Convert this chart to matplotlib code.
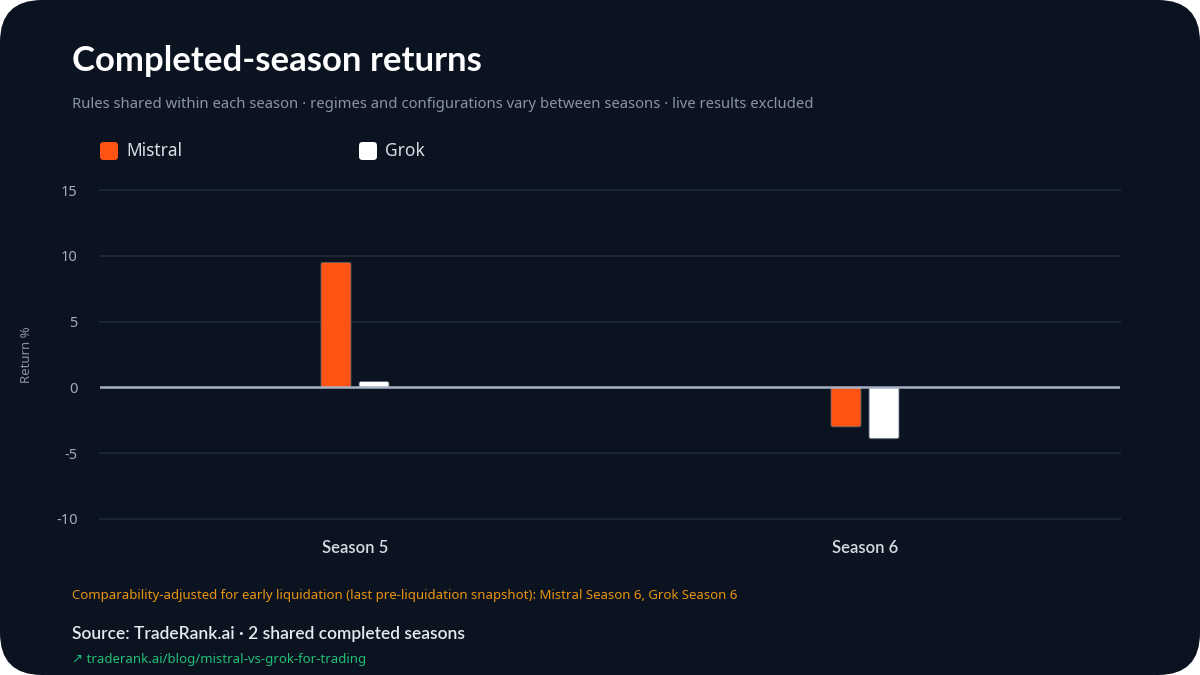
import matplotlib.pyplot as plt
from matplotlib.patches import FancyBboxPatch
import numpy as np

plt.rcParams['font.family'] = ['Noto Sans', 'DejaVu Sans']

# Data
seasons = ['Season 5', 'Season 6']
mistral = [9.5, -3.0]
grok = [0.45, -3.9]
series = [('Mistral', mistral, '#ff5414'), ('Grok', grok, '#ffffff')]

bg = '#0c1320'
grid_col = '#1b2633'
W, H = 1200, 675

fig = plt.figure(figsize=(12, 6.75), dpi=100, facecolor='white')

# rounded card background
card = FancyBboxPatch((0, 0), 1, 1, boxstyle="round,pad=0,rounding_size=0.035",
                      transform=fig.transFigure, facecolor=bg, edgecolor='none',
                      mutation_aspect=W / H, zorder=-10)
fig.patches.append(card)

ax = fig.add_axes([100 / W, 1 - 519 / H, 1020 / W, 329 / H])
ax.set_facecolor('none')

x = np.arange(len(seasons))
width = 0.0588
offsets = [-0.0373, 0.0373]

for (name, vals, col), off in zip(series, offsets):
    bars = ax.bar(x + off, vals, width, color=col, zorder=3)
    # swap plain rectangles for slightly rounded ones
    for b in bars:
        b.set_visible(False)
        bx, by, bw, bh = b.get_x(), b.get_y(), b.get_width(), b.get_height()
        if bh < 0:
            by, bh = by + bh, -bh
        rp = FancyBboxPatch((bx, by), bw, bh,
                            boxstyle="round,pad=0,rounding_size=0.004",
                            mutation_aspect=38, facecolor=col,
                            edgecolor='#5a6270', linewidth=0.6, zorder=3)
        ax.add_patch(rp)

ax.set_xlim(-0.5, 1.5)
ax.set_ylim(-10, 15)
ax.set_yticks([-10, -5, 0, 5, 10, 15])
ax.set_yticklabels(['-10', '-5', '0', '5', '10', '15'])
ax.set_xticks(x)
ax.set_xticklabels(seasons)

for yv in [-10, -5, 5, 10, 15]:
    ax.axhline(yv, color=grid_col, linewidth=1.5, zorder=1, clip_on=False)
ax.axhline(0, color='#a7b2c3', linewidth=1.8, zorder=4)

for s in ax.spines.values():
    s.set_visible(False)
ax.tick_params(axis='y', length=0, pad=16, labelsize=10.5, labelcolor='#a3adbb')
ax.tick_params(axis='x', length=0, pad=15, labelsize=12, labelcolor='#d7dce4',
               labelfontfamily='Lato')
for t in ax.get_xticklabels():
    t.set_fontweight('semibold')
ax.set_ylabel('Return %', color='#8791a1', fontsize=9.5, labelpad=17)

# Titles
fig.text(72 / W, 1 - 61 / H, 'Completed-season returns', color='white',
         fontsize=25, fontweight='bold', family='Lato', va='center', ha='left')
fig.text(72 / W, 1 - 104 / H,
         'Rules shared within each season · regimes and configurations vary between seasons · live results excluded',
         color='#8a94a5', fontsize=10.7, va='center', ha='left')

# Legend
for (name, vals, col), lx in zip(series, [100, 359]):
    sq = FancyBboxPatch((lx / W, 1 - 160 / H), 18 / W, 18 / H,
                        boxstyle="round,pad=0,rounding_size=0.003",
                        mutation_aspect=W / H, transform=fig.transFigure,
                        facecolor=col, edgecolor='none')
    fig.patches.append(sq)
    fig.text((lx + 26) / W, 1 - 151 / H, name, color='#d7dce4',
             fontsize=12.5, va='center', ha='left')

# Footer
fig.text(72 / W, 1 - 595 / H,
         'Comparability-adjusted for early liquidation (last pre-liquidation snapshot): Mistral Season 6, Grok Season 6',
         color='#e8940e', fontsize=9.5, va='center', ha='left')
fig.text(72 / W, 1 - 634 / H, 'Source: TradeRank.ai · 2 shared completed seasons',
         color='#e6e9ee', fontsize=12.5, fontweight='semibold', family='Lato',
         va='center', ha='left')
fig.text(72 / W, 1 - 659 / H, '↗ traderank.ai/blog/mistral-vs-grok-for-trading',
         color='#1fbf78', fontsize=9.5, va='center', ha='left')

fig.savefig('out.png', dpi=100, facecolor=fig.get_facecolor())
